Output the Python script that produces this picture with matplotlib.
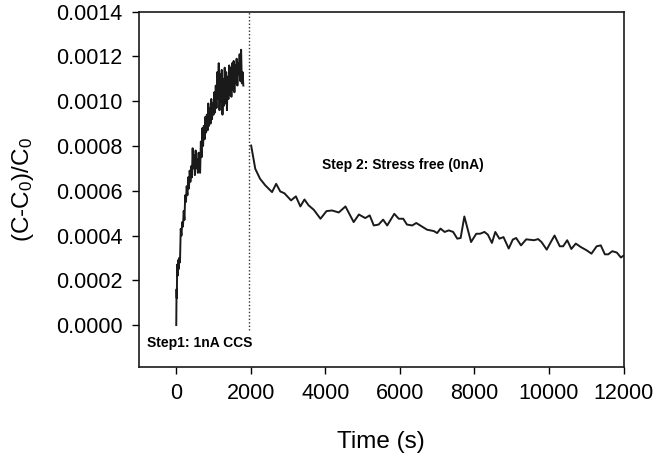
import matplotlib
matplotlib.use("Agg")
import matplotlib.pyplot as plt
from matplotlib.ticker import FormatStrFormatter

plt.rcParams['font.family'] = ['Liberation Sans', 'DejaVu Sans']
plt.rcParams['mathtext.fontset'] = 'custom'
plt.rcParams['mathtext.rm'] = 'Liberation Sans'
plt.rcParams['mathtext.it'] = 'Liberation Sans'

# step 1: 1nA constant current stress
t1 = [0, 8, 15, 25, 35, 50, 65, 80, 100, 120, 140, 160, 180, 200, 220, 240,
      260, 280, 300, 320, 340, 360, 380, 400, 420, 440, 460, 480, 500, 520,
      540, 560, 580, 600, 620, 640, 660, 680, 700, 720, 740, 760, 780, 800,
      820, 840, 860, 880, 900, 920, 940, 960, 980, 1000, 1020, 1040, 1060,
      1080, 1100, 1120, 1140, 1160, 1180, 1200, 1220, 1240, 1260, 1280, 1300,
      1320, 1340, 1360, 1380, 1400, 1420, 1440, 1460, 1480, 1500, 1520, 1540,
      1560, 1580, 1600, 1620, 1640, 1660, 1680, 1700, 1720, 1740, 1760, 1780,
      1800]
c1 = [0.0, 0.00016, 0.00012, 0.00027, 0.00022, 0.00029, 0.00025, 0.00030,
      0.00028, 0.00043, 0.00040, 0.00046, 0.00044, 0.00051, 0.00047, 0.00058,
      0.00055, 0.00062, 0.00058, 0.00066, 0.00061, 0.00069, 0.00064, 0.00071,
      0.00066, 0.00079, 0.00070, 0.00076, 0.00067, 0.00078, 0.00070, 0.00074,
      0.00068, 0.00077, 0.00069, 0.00068, 0.00082, 0.00075, 0.00088, 0.00080,
      0.00089, 0.00083, 0.00093, 0.00086, 0.00094, 0.00087, 0.00099, 0.00089,
      0.00097, 0.00090, 0.00101, 0.00092, 0.00099, 0.00094, 0.00104, 0.00095,
      0.00107, 0.00097, 0.00113, 0.00101, 0.00117, 0.00096, 0.00112, 0.00100,
      0.00114, 0.00094, 0.00110, 0.00098, 0.00115, 0.00099, 0.00113, 0.00096,
      0.00111, 0.00101, 0.00116, 0.00103, 0.00115, 0.00102, 0.00117, 0.00105,
      0.00118, 0.00104, 0.00116, 0.00108, 0.00119, 0.00107, 0.00117, 0.00112,
      0.00121, 0.00109, 0.00123, 0.00108, 0.00113, 0.00107]

# step 2: stress free (0nA)
t2 = [2010, 2120, 2250, 2390, 2570, 2680, 2790, 2900, 3080, 3210, 3330, 3440,
      3550, 3690, 3870, 4030, 4180, 4360, 4540, 4760, 4900, 5070, 5190, 5300,
      5430, 5550, 5660, 5850, 5970, 6090, 6190, 6330, 6440, 6730, 6910, 7000,
      7090, 7200, 7310, 7430, 7540, 7630, 7730, 7910, 8050, 8150, 8270, 8360,
      8470, 8560, 8670, 8780, 8920, 9030, 9120, 9250, 9390, 9600, 9710, 9800,
      9940, 10050, 10150, 10290, 10380, 10490, 10600, 10720, 10850, 11010,
      11140, 11280, 11390, 11500, 11590, 11700, 11820, 11930, 12000]
c2 = [0.000802, 0.000698, 0.000653, 0.000624, 0.000594, 0.000631, 0.000597,
      0.000589, 0.000557, 0.000575, 0.000530, 0.000561, 0.000535, 0.000515,
      0.000475, 0.000509, 0.000512, 0.000503, 0.000530, 0.000460, 0.000494,
      0.000478, 0.000490, 0.000445, 0.000449, 0.000471, 0.000445, 0.000497,
      0.000475, 0.000475, 0.000449, 0.000445, 0.000456, 0.000426, 0.000420,
      0.000411, 0.000431, 0.000416, 0.000423, 0.000416, 0.000386, 0.000389,
      0.000485, 0.000371, 0.000408, 0.000408, 0.000416, 0.000404, 0.000367,
      0.000416, 0.000386, 0.000393, 0.000342, 0.000382, 0.000389, 0.000356,
      0.000383, 0.000379, 0.000384, 0.000371, 0.000337, 0.000371, 0.000400,
      0.000352, 0.000352, 0.000379, 0.000340, 0.000364, 0.000349, 0.000334,
      0.000319, 0.000352, 0.000356, 0.000316, 0.000316, 0.000330, 0.000324,
      0.000302, 0.000310]

t_switch = 1960

fig = plt.figure(figsize=(6.65, 4.57), dpi=100)
ax = fig.add_axes([0.209, 0.1976, 0.7286, 0.7768])

ax.plot(t1, c1, color='#1a1a1a', lw=1.4)
ax.plot(t2, c2, color='#1a1a1a', lw=1.4)
ax.vlines(t_switch, -0.00002, 0.0014, colors='#333333', linestyles=(0, (1, 1.5)), lw=1.0)

ax.text(6080, 0.000715, 'Step 2: Stress free (0nA)', fontsize=10, fontweight='bold',
        ha='center', va='center')
ax.text(-790, -0.00008, 'Step1: 1nA CCS', fontsize=10, fontweight='bold',
        ha='left', va='center')

ax.set_xlim(-1000, 12000)
ax.set_ylim(-0.000186, 0.0014)
ax.set_xticks([0, 2000, 4000, 6000, 8000, 10000, 12000])
ax.set_yticks([0, 0.0002, 0.0004, 0.0006, 0.0008, 0.0010, 0.0012, 0.0014])
ax.yaxis.set_major_formatter(FormatStrFormatter('%.4f'))
ax.tick_params(direction='out', length=5, width=1.0, labelsize=15.5, pad=7,
               top=False, right=False)

for s in ax.spines.values():
    s.set_linewidth(1.2)
    s.set_color('#1a1a1a')

ax.set_xlabel('Time (s)', fontsize=17.5, labelpad=19)
ax.set_ylabel('(C-C$_0$)/C$_0$', fontsize=17.5, labelpad=14)

fig.savefig('out.png', dpi=100)
